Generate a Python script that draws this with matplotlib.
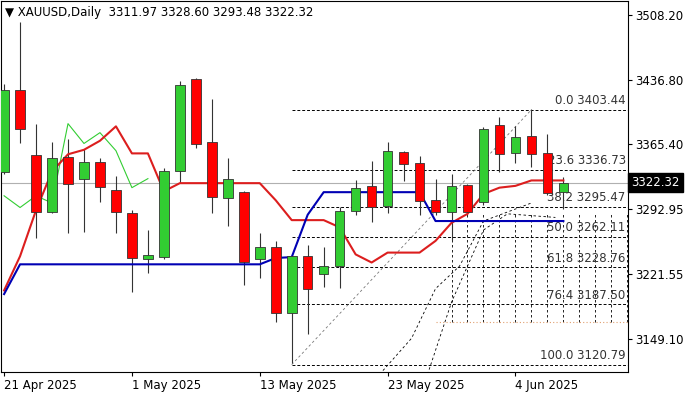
import numpy as np
import matplotlib
matplotlib.use('Agg')
import matplotlib.pyplot as plt

# daily OHLC, 21 Apr 2025 .. 9 Jun 2025
opens = [3333.9, 3425.8, 3352.7, 3289.6, 3350.5, 3326.2, 3345.0, 3314.0, 3288.5, 3237.6,
         3239.8, 3335.0, 3437.9, 3367.1, 3305.1, 3311.8, 3237.6, 3251.0, 3177.9, 3240.9,
         3221.0, 3229.9, 3290.7, 3318.4, 3296.3, 3356.0, 3344.0, 3303.0, 3289.6, 3319.5,
         3300.7, 3387.0, 3354.9, 3374.8, 3354.9, 3311.97]
highs = [3432.0, 3501.0, 3388.0, 3368.0, 3371.5, 3359.4, 3349.4, 3329.5, 3291.8, 3269.7,
         3338.3, 3435.7, 3439.0, 3415.8, 3349.4, 3313.0, 3266.4, 3257.6, 3242.0, 3253.0,
         3251.0, 3295.2, 3325.0, 3346.1, 3367.1, 3358.0, 3351.6, 3326.2, 3331.7, 3321.0,
         3384.0, 3394.8, 3385.9, 3404.6, 3377.0, 3328.60]
lows = [3331.7, 3367.0, 3261.0, 3289.0, 3266.4, 3267.5, 3300.7, 3266.4, 3201.0, 3222.0,
        3238.0, 3321.7, 3360.5, 3288.5, 3274.0, 3208.8, 3216.6, 3167.9, 3122.6, 3154.6,
        3206.6, 3205.5, 3286.3, 3278.6, 3288.5, 3323.9, 3286.3, 3287.0, 3258.6, 3287.0,
        3298.0, 3333.9, 3343.9, 3339.5, 3309.0, 3293.48]
closes = [3425.8, 3382.6, 3289.6, 3349.4, 3320.6, 3345.0, 3317.3, 3289.6, 3238.7, 3242.0,
          3335.0, 3431.3, 3364.9, 3306.2, 3326.2, 3234.3, 3251.0, 3177.9, 3240.9, 3204.4,
          3229.9, 3290.7, 3316.1, 3295.2, 3358.2, 3342.8, 3301.8, 3289.6, 3318.4, 3289.6,
          3382.6, 3353.8, 3373.7, 3353.8, 3310.7, 3322.32]

red_line = [3203, 3241, 3292, 3335, 3354, 3359, 3369, 3385, 3355, 3355,
            3313, 3322, 3322, 3322, 3322, 3322, 3322, 3303, 3281, 3281,
            3281, 3273, 3243, 3234, 3245, 3245, 3245, 3258, 3278, 3288,
            3310, 3317, 3319, 3325, 3325, 3325]
blue_line = [3199, 3232, 3232, 3232, 3232, 3232, 3232, 3232, 3232, 3232,
             3232, 3232, 3232, 3232, 3232, 3232, 3232, 3239, 3240, 3287,
             3312, 3312, 3312, 3312, 3312, 3312, 3312, 3280, 3280, 3280,
             3280, 3280, 3280, 3280, 3280, 3280]
green_line = [3308, 3295, 3308, 3300, 3388, 3366, 3378, 3358, 3317, 3327]

fib_pct = ['0.0', '23.6', '38.2', '50.0', '61.8', '76.4', '100.0']
fib_val = [3403.44, 3336.73, 3295.47, 3262.11, 3228.76, 3187.50, 3120.79]

yticks = [3508.20, 3436.80, 3365.40, 3292.95, 3221.55, 3149.10]
xtick_idx = [0, 8, 16, 24, 32]
xtick_lbl = ['21 Apr 2025', '1 May 2025', '13 May 2025', '23 May 2025', '4 Jun 2025']

fig = plt.figure(figsize=(7, 4), dpi=100)
ax = fig.add_axes([0.0015, 0.07, 0.896, 0.928])
x = np.arange(len(opens))

# fib grid
for v, pc in zip(fib_val, fib_pct):
    ax.plot([18, 39.2], [v, v], ls=(0, (3, 2)), color='black', lw=0.7, zorder=1)
    ax.text(38.9, v + 3, f'{pc} {v:.2f}', ha='right', va='bottom', fontsize=8.5, color='#333333')
ax.plot([18, 33], [3120.79, 3403.44], ls=(0, (3, 3)), color='#777777', lw=0.6, zorder=1)
ax.plot([23.5, 25.5, 27, 28.5, 30, 33], [3110, 3150, 3205, 3230, 3280, 3300],
        ls=(0, (3, 3)), color='black', lw=0.6, zorder=1)
ax.plot([26.5, 28, 30, 31.5, 34.5], [3110, 3190, 3270, 3288, 3284],
        ls=(0, (3, 3)), color='black', lw=0.6, zorder=1)
for vx in np.arange(28, 40):
    ax.plot([vx, vx], [3168, 3290], ls=(0, (3, 3)), color='black', lw=0.6, zorder=1)
ax.plot([27, 39.2], [3168, 3168], ls=(0, (1, 2)), color='#e0a070', lw=0.8, zorder=1)

# current price line
ax.axhline(closes[-1], color='#b0b0b0', lw=0.8, zorder=1)

ax.plot(x[:len(green_line)], green_line, color='#32cd32', lw=0.8, zorder=2)
ax.plot(x, red_line, color='#dc1e1e', lw=1.5, zorder=4)
ax.plot(x, blue_line, color='#0000b4', lw=1.5, zorder=4)

for i in x:
    o, h, l, c = opens[i], highs[i], lows[i], closes[i]
    col = '#32cd32' if c >= o else '#ff0000'
    ax.vlines(i, l, h, color='#333333', lw=0.8, zorder=3)
    ax.bar(i, abs(c - o) or 0.8, bottom=min(o, c), width=0.6, color=col,
           edgecolor='#333333', lw=0.6, zorder=5)

ax.set_xlim(-0.19, 39.06)
ax.set_ylim(3112.6, 3524.2)
ax.yaxis.tick_right()
ax.set_yticks(yticks)
ax.set_yticklabels([f'{v:.2f}' for v in yticks], fontsize=8.5)
ax.set_xticks(xtick_idx)
ax.set_xticklabels(xtick_lbl, fontsize=8.5, ha='left')
ax.tick_params(length=3, pad=2)
for lbl in ax.get_xticklabels():
    lbl.set_x(lbl.get_position()[0])
ax.text(0.006, 0.985, '\u25bc XAUUSD,Daily  3311.97 3328.60 3293.48 3322.32',
        transform=ax.transAxes, fontsize=8.5, va='top', ha='left')
ax.text(1.005, closes[-1], f'{closes[-1]:.2f}', transform=ax.get_yaxis_transform(),
        fontsize=8.5, color='white', va='center', ha='left',
        bbox=dict(boxstyle='square,pad=0.25', fc='black', ec='black'))

fig.savefig('out.png', dpi=100)
